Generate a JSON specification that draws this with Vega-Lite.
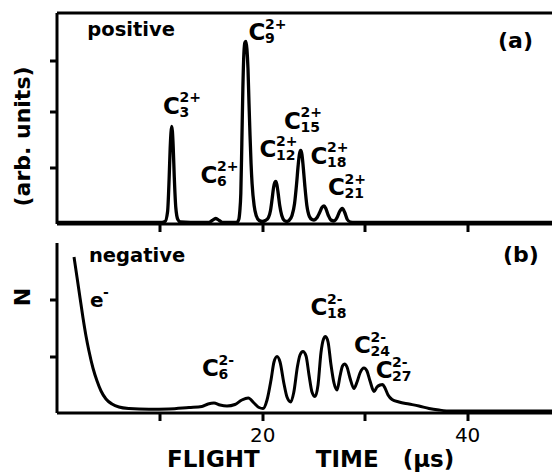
{
  "$schema": "https://vega.github.io/schema/vega-lite/v6.json",
  "padding": {"left": 10.5, "top": 12.5, "right": 0, "bottom": 0},
  "spacing": 9,
  "config": {
    "view": {"stroke": null},
    "axis": {"domainColor": "black", "domainWidth": 3, "tickColor": "black", "tickWidth": 3, "grid": false, "labelColor": "black", "titleColor": "black", "labelFlush": false}
  },
  "vconcat": [
    {
      "width": 500,
      "height": 211,
      "layer": [
        {
          "encoding": {
            "x": {"field": "t", "type": "quantitative", "scale": {"domain": [-0.1, 48.73], "nice": false, "zero": false},
                  "axis": {"orient": "bottom", "values": [10, 20, 30, 40], "labels": false, "tickSize": 8, "title": null}},
            "y": {"field": "n", "type": "quantitative", "scale": {"domain": [0, 211], "nice": false},
                  "axis": {"orient": "left", "values": [56, 112, 163], "labels": false, "tickSize": 7, "title": "(arb. units)", "titleFont": "DejaVu Sans", "titleFontWeight": "bold", "titleFontSize": 22, "titlePadding": 14, "titleY": 123.5}}
          },
          "layer": [
            {
              "data": {"values": [
                {"t":0,"n":1},{"t":5,"n":1},{"t":10,"n":1},{"t":10.5,"n":2},{"t":10.75,"n":12},{"t":10.9,"n":45},{"t":11.0,"n":75},{"t":11.08,"n":91},{"t":11.15,"n":97},{"t":11.22,"n":92},{"t":11.3,"n":76},{"t":11.4,"n":47},{"t":11.55,"n":16},{"t":11.75,"n":4},{"t":12.0,"n":1.5},{"t":13,"n":1},{"t":14.8,"n":1},{"t":15.1,"n":3},{"t":15.45,"n":5},{"t":15.8,"n":3},{"t":16.1,"n":1},{"t":17.5,"n":1},{"t":17.7,"n":4},{"t":17.8,"n":12},{"t":17.9,"n":30},{"t":18.0,"n":80},{"t":18.1,"n":135},{"t":18.2,"n":170},{"t":18.3,"n":181},{"t":18.4,"n":182},{"t":18.5,"n":174},{"t":18.6,"n":155},{"t":18.7,"n":120},{"t":18.8,"n":88},{"t":18.9,"n":60},{"t":19.0,"n":40},{"t":19.2,"n":18},{"t":19.4,"n":8},{"t":19.7,"n":3},{"t":20.0,"n":2},{"t":20.3,"n":3},{"t":20.6,"n":6},{"t":20.8,"n":13},{"t":20.95,"n":24},{"t":21.1,"n":36},{"t":21.22,"n":41},{"t":21.31,"n":42},{"t":21.42,"n":39},{"t":21.55,"n":30},{"t":21.7,"n":18},{"t":21.9,"n":8},{"t":22.15,"n":3},{"t":22.4,"n":2},{"t":22.6,"n":3},{"t":22.9,"n":8},{"t":23.15,"n":20},{"t":23.35,"n":40},{"t":23.5,"n":58},{"t":23.62,"n":69},{"t":23.75,"n":73},{"t":23.87,"n":69},{"t":24.0,"n":56},{"t":24.15,"n":38},{"t":24.35,"n":18},{"t":24.6,"n":7},{"t":24.85,"n":4},{"t":25.05,"n":3.5},{"t":25.35,"n":6},{"t":25.6,"n":11},{"t":25.85,"n":16.5},{"t":26.03,"n":17.5},{"t":26.2,"n":15},{"t":26.45,"n":8},{"t":26.7,"n":3.5},{"t":27.0,"n":2.5},{"t":27.3,"n":6},{"t":27.55,"n":12},{"t":27.81,"n":15},{"t":28.05,"n":11},{"t":28.3,"n":4},{"t":28.6,"n":1.5},{"t":29,"n":1},{"t":35,"n":1},{"t":48.73,"n":1}
              ]},
              "mark": {"type": "line", "interpolate": "monotone", "color": "black", "strokeWidth": 3.3}
            },
            {
              "data": {"values": [
                {"t":11.13,"n":110,"sup":"2+","sub":"3"},{"t":14.79,"n":41,"sup":"2+","sub":"6"},{"t":19.48,"n":183.3,"sup":"2+","sub":"9"},{"t":20.56,"n":66.5,"sup":"2+","sub":"12"},{"t":22.95,"n":95,"sup":"2+","sub":"15"},{"t":25.54,"n":60,"sup":"2+","sub":"18"},{"t":27.25,"n":28.3,"sup":"2+","sub":"21"}
              ]},
              "layer": [
                {"mark": {"type": "text", "text": "C", "font": "DejaVu Sans", "fontWeight": "bold", "fontSize": 23, "align": "center", "baseline": "alphabetic", "color": "black"}},
                {"mark": {"type": "text", "font": "DejaVu Sans", "fontWeight": "bold", "fontSize": 14, "align": "left", "baseline": "alphabetic", "dx": 8, "dy": -11.5, "color": "black"}, "encoding": {"text": {"field": "sup"}}},
                {"mark": {"type": "text", "font": "DejaVu Sans", "fontWeight": "bold", "fontSize": 14, "align": "left", "baseline": "alphabetic", "dx": 8, "dy": 3, "color": "black"}, "encoding": {"text": {"field": "sub"}}}
              ]
            },
            {
              "data": {"values": [{"t": 2.91, "n": 187.7, "label": "positive"}]},
              "mark": {"type": "text", "font": "DejaVu Sans", "fontWeight": "bold", "fontSize": 19.5, "align": "left", "baseline": "alphabetic", "color": "black"},
              "encoding": {"text": {"field": "label"}}
            }
          ]
        },
        {
          "data": {"values": [{"t": 43.02, "n": 176, "label": "(a)"}]},
          "mark": {"type": "text", "font": "DejaVu Sans", "fontWeight": "bold", "fontSize": 22, "align": "left", "baseline": "alphabetic", "color": "black"},
          "encoding": {
            "x": {"field": "t", "type": "quantitative", "scale": {"domain": [-0.1, 48.73], "nice": false, "zero": false},
                  "axis": {"orient": "top", "ticks": false, "labels": false, "title": null, "domain": true}},
            "y": {"field": "n", "type": "quantitative", "scale": {"domain": [0, 211], "nice": false},
                  "axis": {"orient": "left", "values": [56, 112, 163], "labels": false, "tickSize": 7, "title": "(arb. units)", "titleFont": "DejaVu Sans", "titleFontWeight": "bold", "titleFontSize": 22, "titlePadding": 14, "titleY": 123.5}},
            "text": {"field": "label"}
          }
        }
      ],
      "resolve": {"axis": {"x": "independent"}}
    },
    {
      "width": 500,
      "height": 170,
      "encoding": {
        "x": {"field": "t", "type": "quantitative", "scale": {"domain": [-0.1, 48.73], "nice": false, "zero": false},
              "axis": {"orient": "bottom", "values": [10, 20, 30, 40], "labelExpr": "datum.value == 20 || datum.value == 40 ? datum.label : ''", "tickSize": 8, "labelPadding": 5, "labelFont": "DejaVu Sans", "labelFontSize": 20, "labelFontWeight": "normal",
                       "title": "FLIGHT\u00a0\u00a0\u00a0\u00a0\u00a0\u00a0\u00a0TIME\u00a0\u00a0\u00a0(μs)", "titleFont": "DejaVu Sans", "titleFontWeight": "bold", "titleFontSize": 23, "titleAlign": "left", "titleX": 110, "titlePadding": 3}},
        "y": {"field": "n", "type": "quantitative", "scale": {"domain": [0, 170], "nice": false},
              "axis": {"orient": "left", "values": [56, 113], "labels": false, "tickSize": 7, "title": "N", "titleFont": "DejaVu Sans", "titleFontWeight": "bold", "titleFontSize": 22, "titlePadding": 14, "titleY": 54}}
      },
      "layer": [
        {
          "data": {"values": [
            {"t":1.61,"n":155.5},{"t":1.9,"n":135.5},{"t":2.2,"n":114.5},{"t":2.49,"n":94.5},{"t":2.78,"n":76.5},{"t":3.07,"n":61.5},{"t":3.46,"n":44.5},{"t":3.86,"n":31.5},{"t":4.25,"n":21.5},{"t":4.73,"n":13.5},{"t":5.32,"n":8.5},{"t":6.0,"n":5.5},{"t":6.98,"n":4},{"t":8.93,"n":3.2},{"t":10.88,"n":3.5},{"t":12.84,"n":5},{"t":14.1,"n":6},{"t":14.7,"n":8.5},{"t":15.28,"n":9.5},{"t":15.87,"n":7.5},{"t":16.55,"n":6.5},{"t":17.33,"n":8},{"t":18.0,"n":12.5},{"t":18.63,"n":14.5},{"t":19.19,"n":9.5},{"t":19.68,"n":5},{"t":20.07,"n":4},{"t":20.46,"n":12.5},{"t":20.85,"n":32.5},{"t":21.14,"n":50.5},{"t":21.44,"n":56},{"t":21.73,"n":50.5},{"t":22.12,"n":28.5},{"t":22.41,"n":15.5},{"t":22.78,"n":10.5},{"t":23.07,"n":20},{"t":23.44,"n":46.5},{"t":23.68,"n":57.5},{"t":23.97,"n":61},{"t":24.27,"n":56.5},{"t":24.56,"n":37.5},{"t":24.85,"n":20.5},{"t":25.15,"n":16},{"t":25.44,"n":27.5},{"t":25.73,"n":60},{"t":25.98,"n":73.5},{"t":26.17,"n":76},{"t":26.42,"n":70.5},{"t":26.71,"n":47.5},{"t":27.0,"n":29.5},{"t":27.3,"n":22.5},{"t":27.59,"n":36.5},{"t":27.83,"n":46.5},{"t":28.03,"n":48.5},{"t":28.27,"n":45.5},{"t":28.56,"n":34.5},{"t":28.95,"n":24},{"t":29.25,"n":30.5},{"t":29.54,"n":39.5},{"t":29.93,"n":44.5},{"t":30.22,"n":41.5},{"t":30.52,"n":31.5},{"t":30.91,"n":21},{"t":31.2,"n":25.5},{"t":31.5,"n":27.5},{"t":31.74,"n":28},{"t":31.98,"n":24.5},{"t":32.28,"n":17.5},{"t":32.67,"n":13},{"t":33.35,"n":10.5},{"t":34.33,"n":8.5},{"t":35.3,"n":6.5},{"t":36.28,"n":4},{"t":37.26,"n":2.5},{"t":38.43,"n":1.5},{"t":48.73,"n":1.5}
          ]},
          "mark": {"type": "line", "interpolate": "monotone", "color": "black", "strokeWidth": 3}
        },
        {
          "data": {"values": [
            {"t":14.94,"n":36.5,"sup":"2-","sub":"6"},{"t":25.54,"n":97.5,"sup":"2-","sub":"18"},{"t":29.79,"n":59.2,"sup":"2-","sub":"24"},{"t":31.89,"n":34.2,"sup":"2-","sub":"27"}
          ]},
          "layer": [
            {"mark": {"type": "text", "text": "C", "font": "DejaVu Sans", "fontWeight": "bold", "fontSize": 23, "align": "center", "baseline": "alphabetic", "color": "black"}},
            {"mark": {"type": "text", "font": "DejaVu Sans", "fontWeight": "bold", "fontSize": 14, "align": "left", "baseline": "alphabetic", "dx": 8, "dy": -11.5, "color": "black"}, "encoding": {"text": {"field": "sup"}}},
            {"mark": {"type": "text", "font": "DejaVu Sans", "fontWeight": "bold", "fontSize": 14, "align": "left", "baseline": "alphabetic", "dx": 8, "dy": 3, "color": "black"}, "encoding": {"text": {"field": "sub"}}}
          ]
        },
        {
          "data": {"values": [{"t": 3.07, "n": 150.8, "label": "negative"}]},
          "mark": {"type": "text", "font": "DejaVu Sans", "fontWeight": "bold", "fontSize": 19.5, "align": "left", "baseline": "alphabetic", "color": "black"},
          "encoding": {"text": {"field": "label"}}
        },
        {
          "data": {"values": [{"t": 43.51, "n": 150.5, "label": "(b)"}]},
          "mark": {"type": "text", "font": "DejaVu Sans", "fontWeight": "bold", "fontSize": 22, "align": "left", "baseline": "alphabetic", "color": "black"},
          "encoding": {"text": {"field": "label"}}
        },
        {
          "data": {"values": [{"t": 3.17, "n": 105.8, "label": "e", "sup": "-"}]},
          "layer": [
            {"mark": {"type": "text", "font": "DejaVu Sans", "fontWeight": "bold", "fontSize": 20, "align": "left", "baseline": "alphabetic", "color": "black"}, "encoding": {"text": {"field": "label"}}},
            {"mark": {"type": "text", "font": "DejaVu Sans", "fontWeight": "bold", "fontSize": 14, "align": "left", "baseline": "alphabetic", "dx": 13, "dy": -9.5, "color": "black"}, "encoding": {"text": {"field": "sup"}}}
          ]
        }
      ]
    }
  ]
}
